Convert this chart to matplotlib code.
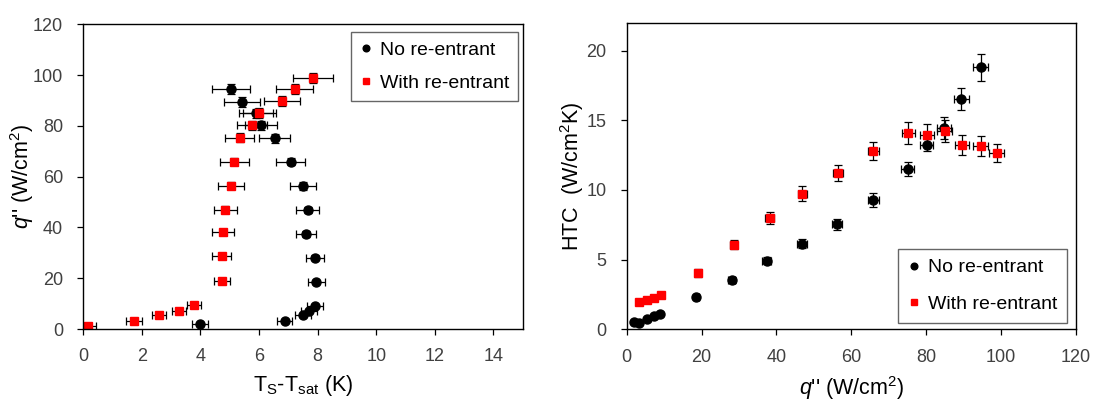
import numpy as np
import matplotlib
matplotlib.use("Agg")
import matplotlib.pyplot as plt
from matplotlib.lines import Line2D

plt.rcParams['font.family'] = ['Liberation Sans', 'DejaVu Sans']
plt.rcParams['mathtext.fontset'] = 'custom'
plt.rcParams['mathtext.rm'] = 'Liberation Sans'
plt.rcParams['mathtext.it'] = 'Liberation Sans:italic'
plt.rcParams['mathtext.bf'] = 'Liberation Sans:bold'

nan = np.nan

# ---- No re-entrant (black) ----
q_no = [2.0, 3.3, 5.4, 7.2, 8.9, 18.6, 28.1, 37.4, 46.9, 56.3, 65.9, 75.1, 80.2, 84.9, 89.5, 94.6]
q_no_err = [0.2, 0.2, 0.3, 0.3, 0.4, 0.7, 0.9, 1.1, 1.3, 1.4, 1.5, 1.7, 1.8, 1.9, 1.9, 2.0]
dT_no = [3.99, 6.87, 7.49, 7.70, 7.90, 7.95, 7.91, 7.61, 7.66, 7.49, 7.08, 6.53, 6.06, 5.89, 5.42, 5.05]
dT_no_err = [0.27, 0.26, 0.27, 0.27, 0.27, 0.29, 0.30, 0.35, 0.40, 0.44, 0.49, 0.53, 0.55, 0.59, 0.62, 0.65]
htc_no = [0.50, 0.48, 0.72, 0.94, 1.13, 2.34, 3.55, 4.93, 6.15, 7.52, 9.28, 11.50, 13.24, 14.42, 16.55, 18.80]
htc_no_err = [0.08, 0.08, 0.08, 0.10, 0.10, 0.15, 0.20, 0.25, 0.30, 0.36, 0.50, 0.50, 0.45, 0.79, 0.80, 0.96]

# ---- With re-entrant (red) ----
q_re = [1.3, 3.3, 5.5, 7.2, 9.3, 19.0, 28.6, 38.2, 47.0, 56.5, 65.9, 75.3, 80.3, 85.0, 89.7, 94.6, 99.0]
q_re_err = [0.2, 0.2, 0.3, 0.3, 0.4, 0.7, 0.9, 1.1, 1.3, 1.4, 1.5, 1.7, 1.8, 1.9, 1.9, 2.0, 2.0]
dT_re = [0.17, 1.72, 2.58, 3.26, 3.79, 4.73, 4.73, 4.77, 4.85, 5.04, 5.15, 5.34, 5.75, 6.01, 6.78, 7.22, 7.83]
dT_re_err = [0.26, 0.27, 0.25, 0.24, 0.24, 0.28, 0.32, 0.37, 0.40, 0.44, 0.49, 0.50, 0.52, 0.56, 0.62, 0.63, 0.68]
htc_re = [nan, 1.95, 2.12, 2.22, 2.45, 4.02, 6.08, 8.01, 9.74, 11.20, 12.80, 14.10, 13.93, 14.22, 13.22, 13.14, 12.65]
htc_re_err = [nan, 0.10, 0.10, 0.10, 0.12, 0.30, 0.35, 0.43, 0.51, 0.57, 0.63, 0.80, 0.80, 0.80, 0.74, 0.70, 0.63]

labels = ["No re-entrant", "With re-entrant"]
left_xticks = [0, 2, 4, 6, 8, 10, 12, 14]
left_yticks = [0, 20, 40, 60, 80, 100, 120]
right_xticks = [0, 20, 40, 60, 80, 100, 120]
right_yticks = [0, 5, 10, 15, 20]

W, H = 1097, 401
fig = plt.figure(figsize=(W / 100, H / 100), dpi=100)
ax1 = fig.add_axes([83.3 / W, 1 - 329 / H, (522.7 - 83.3) / W, (329 - 24.3) / H])
ax2 = fig.add_axes([626.7 / W, 1 - 329.3 / H, (1075.5 - 626.7) / W, (329.3 - 22.7) / H])

FS = 13
LFS = 15.5
LEGFS = 14
tick_col = '#404040'
eb = dict(ecolor='black', elinewidth=0.9, capsize=3, capthick=0.9, linestyle='none')

# Left panel
ax1.errorbar(dT_no, q_no, xerr=dT_no_err, yerr=q_no_err, fmt='o', color='black', ms=6.5, **eb)
ax1.errorbar(dT_re, q_re, xerr=dT_re_err, yerr=q_re_err, fmt='s', color='#ff0000', ms=6.3, **eb)
ax1.set_xlim(0, 15)
ax1.set_ylim(0, 120)
ax1.set_xticks(left_xticks)
ax1.set_yticks(left_yticks)
ax1.set_xlabel(r"T$_\mathrm{S}$-T$_\mathrm{sat}$ (K)", fontsize=LFS)
ax1.set_ylabel(r"$q$'' (W/cm$^2$)", fontsize=LFS)
ax1.yaxis.set_label_coords(-0.1076, 0.5)
ax1.xaxis.set_label_coords(0.5, -0.146)

# Right panel
ax2.errorbar(q_no, htc_no, xerr=q_no_err, yerr=htc_no_err, fmt='o', color='black', ms=6.5, **eb)
ax2.errorbar(q_re, htc_re, xerr=q_re_err, yerr=htc_re_err, fmt='s', color='#ff0000', ms=6.3, **eb)
ax2.set_xlim(0, 120)
ax2.set_ylim(0, 22)
ax2.set_xticks(right_xticks)
ax2.set_yticks(right_yticks)
ax2.set_xlabel(r"$q$'' (W/cm$^2$)", fontsize=LFS)
ax2.set_ylabel(r"HTC  (W/cm$^2$K)", fontsize=LFS)
ax2.yaxis.set_label_coords(-0.0908, 0.5)
ax2.xaxis.set_label_coords(0.5, -0.146)

for ax in (ax1, ax2):
    for s in ax.spines.values():
        s.set_color('black')
        s.set_linewidth(1.0)
    ax.tick_params(direction='out', length=4.5, width=0.9, labelsize=FS, labelcolor=tick_col, color='black')
    ax.tick_params(axis='x', pad=9.5)
    ax.tick_params(axis='y', pad=10)

handles = [Line2D([], [], marker='o', color='black', ls='none', ms=4.8),
           Line2D([], [], marker='s', color='#ff0000', ls='none', ms=4.8)]

leg1 = ax1.legend(handles, labels, loc='upper right', bbox_to_anchor=(0.9893, 0.9747),
                  borderaxespad=0, fontsize=LEGFS, frameon=True, fancybox=False,
                  handlelength=0.6, handletextpad=0.4, labelspacing=0.82,
                  borderpad=0.46)
leg1.get_frame().set_edgecolor('#404040')
leg1.get_frame().set_linewidth(1.0)

leg2 = ax2.legend(handles, labels, loc='lower right', bbox_to_anchor=(0.9815, 0.0215),
                  borderaxespad=0, fontsize=LEGFS, frameon=True, fancybox=False,
                  handlelength=0.6, handletextpad=0.4, labelspacing=0.96,
                  borderpad=0.52)
leg2.get_frame().set_edgecolor('#404040')
leg2.get_frame().set_linewidth(1.0)

fig.savefig("out.png", dpi=100)
